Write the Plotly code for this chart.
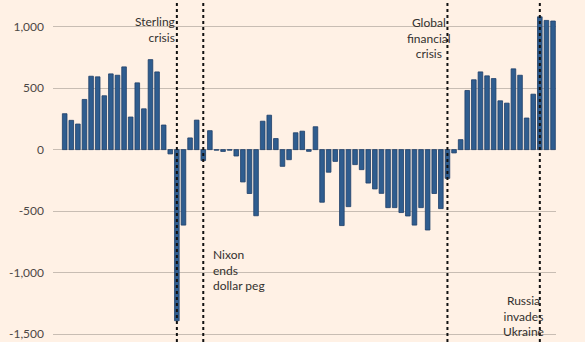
import plotly.graph_objects as go

years = list(range(1950, 2025))
net_tonnes = [
    292, 238, 208, 408, 597, 592, 438, 616, 605, 673,
    265, 543, 332, 732, 632, 200, -35, -1392, -614, 95,
    240, -89, 154, -5, -15, -5, -52, -263, -357, -538,
    231, 280, 90, -136, -82, 137, 150, -14, 186, -428,
    -184, -96, -618, -464, -122, -163, -272, -320, -356, -472,
    -472, -512, -540, -614, -472, -654, -357, -480, -234, -27,
    81, 481, 568, 632, 600, 578, 397, 378, 657, 605,
    257, 451, 1080, 1051, 1046,
]

tick_vals = [-1500, -1000, -500, 0, 500, 1000]
tick_text = ["-1,500", "-1,000", "-500", "0", "500", "1,000"]

events = [
    {"year": 1967, "label": "Sterling<br>crisis", "tx": 1967, "ty": 981, "xanchor": "right", "align": "right", "xshift": 0},
    {"year": 1971, "label": "Nixon<br>ends<br>dollar peg", "tx": 1971, "ty": -979, "xanchor": "left", "align": "left", "xshift": 8},
    {"year": 2008, "label": "Global<br>financial<br>crisis", "tx": 2005.15, "ty": 905, "xanchor": "center", "align": "center", "xshift": 0},
    {"year": 2022, "label": "Russia<br>invades<br>Ukraine", "tx": 2019.55, "ty": -1354, "xanchor": "center", "align": "center", "xshift": 0},
]

bg = "#fff1e5"

fig = go.Figure()
fig.add_trace(go.Bar(
    x=years, y=net_tonnes,
    width=0.7,
    marker=dict(color="#2f5d8f", line=dict(color="#1e3f68", width=0.8)),
    showlegend=False,
))

for ev in events:
    fig.add_shape(type="line", xref="x", yref="paper",
                  x0=ev["year"], x1=ev["year"], y0=0, y1=1,
                  line=dict(color="#111111", width=2, dash="dot"),
                  layer="above")
    fig.add_annotation(x=ev["tx"], y=ev["ty"], xref="x", yref="y",
                       text=ev["label"], showarrow=False,
                       xanchor=ev["xanchor"], yanchor="middle",
                       align=ev["align"], xshift=ev["xshift"],
                       font=dict(family="Lato", size=12, color="#33302e"))

fig.update_layout(
    width=585, height=342,
    margin=dict(l=53, r=29, t=0, b=0),
    paper_bgcolor=bg, plot_bgcolor=bg,
    bargap=0.3,
    xaxis=dict(range=[1948.23, 2024.45], showticklabels=False, showgrid=False,
               zeroline=False, showline=False, ticks=""),
    yaxis=dict(range=[-1565, 1217], tickvals=tick_vals, ticktext=tick_text,
               showgrid=True, gridcolor="#c8bdb3", gridwidth=1,
               zeroline=False, showline=False, ticks="",
               ticklabelstandoff=8,
               tickfont=dict(family="Lato", size=12, color="#4d4845")),
)

fig.write_html("out.html")
